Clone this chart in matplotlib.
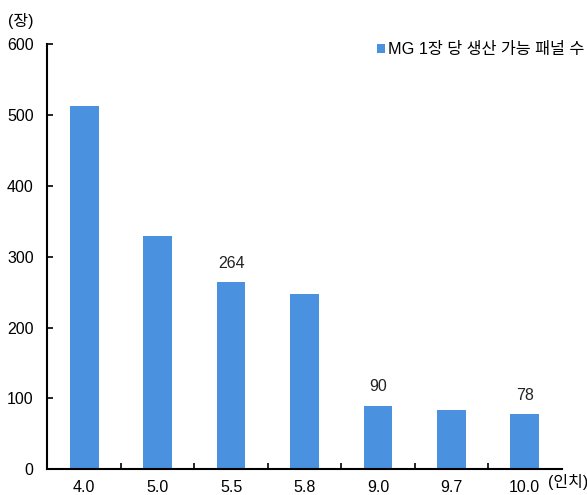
import matplotlib.pyplot as plt
import numpy as np

plt.rcParams['font.family'] = ['Liberation Sans', 'Noto Sans CJK KR']

# 인치별 MG 1장 당 생산 가능 패널 수
sizes = ['4.0', '5.0', '5.5', '5.8', '9.0', '9.7', '10.0']
panels = [513, 329, 264, 247, 90, 84, 78]
labeled = ['5.5', '9.0', '10.0']

bar_color = '#4A92E0'

fig = plt.figure(figsize=(5.87, 4.95), dpi=100)
ax = fig.add_axes([47.5 / 587, 25.7 / 495, 514 / 587, 425.3 / 495])

x = np.arange(len(sizes))
ax.bar(x, panels, width=0.39, color=bar_color,
       label='MG 1장 당 생산 가능 패널 수', zorder=2)

for xi, name, v in zip(x, sizes, panels):
    if name in labeled:
        ax.annotate(f'{v}', (xi, v), xytext=(0, 8), textcoords='offset points',
                    ha='center', va='bottom', fontsize=11.5, color='#222222')

ax.set_xlim(-0.5, 6.5)
ax.set_ylim(0, 600)
ax.set_yticks(range(0, 601, 100))
ax.tick_params(axis='y', direction='in', length=4, width=1.2,
               labelsize=11.5, pad=10)

# category labels centred, tick marks between categories
ax.set_xticks(x)
ax.set_xticklabels(sizes, fontsize=11.5)
ax.set_xticks(np.arange(0.5, len(sizes) - 0.5, 1), minor=True)
ax.tick_params(axis='x', which='major', length=0, pad=8)
ax.tick_params(axis='x', which='minor', direction='in', length=4, width=1.2)

for side in ['top', 'right']:
    ax.spines[side].set_visible(False)
for side in ['left', 'bottom']:
    ax.spines[side].set_linewidth(1.5)

fig.text(8 / 587, 1 - 21 / 495, '(장)', fontsize=11.5, va='center', ha='left')
fig.text(548 / 587, 1 - 482 / 495, '(인치)', fontsize=11.5, va='center', ha='left')

ax.legend(loc='upper right', bbox_to_anchor=(584 / 587, 1 - 42 / 495),
          bbox_transform=fig.transFigure, frameon=False,
          fontsize=11.7, handlelength=0.5, handleheight=0.5,
          handletextpad=0.15, borderaxespad=0, borderpad=0)

fig.savefig('out.png', dpi=100)
